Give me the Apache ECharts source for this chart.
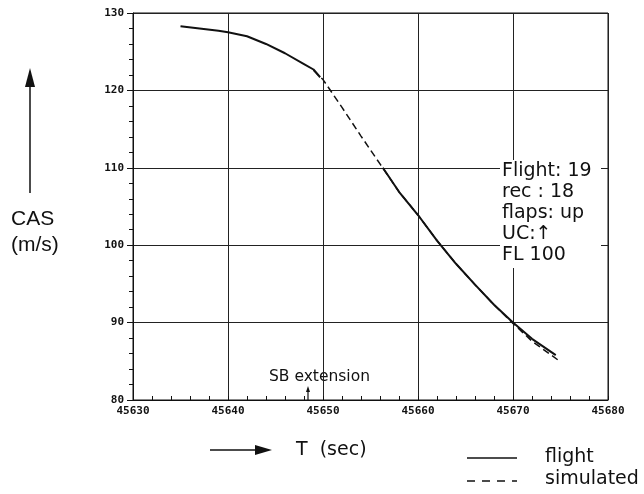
<!DOCTYPE html>
<html>
<head>
<meta charset="utf-8">
<script src="https://cdn.jsdelivr.net/npm/echarts@6/dist/echarts.min.js"></script>
<style>html,body{margin:0;padding:0;background:#fff}#c{width:644px;height:494px}</style>
</head>
<body>
<div id="c"></div>
<script>
// Flight record (solid) — T (sec), CAS (m/s); null = gap in record
var flightT   = [45635, 45637, 45639, 45640, 45642, 45644, 45646, 45648, 45649, 45649.7, 45650.4, 45656.3, 45658, 45660, 45662, 45664, 45666, 45668, 45670, 45672, 45674.5];
var flightCAS = [128.3, 128.0, 127.7, 127.5, 127.0, 126.0, 124.8, 123.4, 122.7, 121.7, null, 110.0, 106.9, 103.9, 100.6, 97.6, 94.9, 92.3, 90.0, 87.9, 85.8];
// Simulated (dashed)
var simT   = [45649, 45650, 45652, 45654, 45656, 45658, 45660, 45662, 45664, 45666, 45668, 45670, 45672, 45674.7];
var simCAS = [122.6, 121.4, 117.8, 114.1, 110.5, 106.9, 103.9, 100.6, 97.6, 94.9, 92.3, 89.9, 87.6, 85.2];
var xTicks = [45630, 45640, 45650, 45660, 45670, 45680];
var yTicks = [80, 90, 100, 110, 120, 130];

function pairs(a, b) { return a.map(function (t, i) { return [t, b[i]]; }); }

var chart = echarts.init(document.getElementById('c'), null, {renderer: 'canvas'});
var tickFont = {fontFamily: 'DejaVu Sans Mono', fontWeight: 'bold', fontSize: 11, color: '#111'};
function T(text, size, fam) { return {text: text, fontFamily: fam || 'DejaVu Sans', fontSize: size, fill: '#111'}; }

chart.setOption({
  backgroundColor: '#fff',
  animation: false,
  grid: {left: 133, right: 36, top: 13, bottom: 94, show: true, borderColor: '#111', borderWidth: 1},
  xAxis: {
    type: 'value', min: xTicks[0], max: xTicks[xTicks.length - 1], interval: 10,
    axisLine: {lineStyle: {color: '#111'}},
    axisTick: {inside: true, length: 4, lineStyle: {color: '#111'}},
    minorTick: {show: true, splitNumber: 5, length: 4, lineStyle: {color: '#111'}},
    splitLine: {lineStyle: {color: '#222', width: 1}},
    axisLabel: Object.assign({margin: 6, formatter: function (v) { return String(v); }}, tickFont)
  },
  yAxis: {
    type: 'value', min: yTicks[0], max: yTicks[yTicks.length - 1], interval: 10,
    axisLine: {lineStyle: {color: '#111'}},
    axisTick: {length: 6, lineStyle: {color: '#111'}},
    minorTick: {show: true, splitNumber: 5, length: 4, lineStyle: {color: '#111'}},
    splitLine: {lineStyle: {color: '#222', width: 1}},
    axisLabel: Object.assign({margin: 9}, tickFont)
  },
  series: [
    {name: 'flight', type: 'line', data: pairs(flightT, flightCAS), showSymbol: false, connectNulls: false,
     smooth: false, lineStyle: {color: '#111', width: 2}, z: 3},
    {name: 'simulated', type: 'line', data: pairs(simT, simCAS), showSymbol: false,
     smooth: false, lineStyle: {color: '#111', width: 1.5, type: [7, 4]}, z: 2}
  ],
  graphic: [
    // Y-axis title with arrow
    {type: 'line', shape: {x1: 30, y1: 193, x2: 30, y2: 82}, style: {stroke: '#111', lineWidth: 1.5}},
    {type: 'polygon', shape: {points: [[30, 68], [25, 87], [35, 87]]}, style: {fill: '#111'}},
    {type: 'text', left: 11, top: 209, style: T('CAS', 21, 'Liberation Sans')},
    {type: 'text', left: 11, top: 235, style: T('(m/s)', 21, 'Liberation Sans')},
    // X-axis title with arrow
    {type: 'line', shape: {x1: 210, y1: 450, x2: 258, y2: 450}, style: {stroke: '#111', lineWidth: 1.5}},
    {type: 'polygon', shape: {points: [[272, 450], [255, 445], [255, 455]]}, style: {fill: '#111'}},
    {type: 'text', left: 296, top: 441, style: T('T  (sec)', 19)},
    // Info box
    {type: 'rect', shape: {x: 500, y: 160, width: 101, height: 108}, style: {fill: '#fff'}, z: 50},
    {type: 'text', left: 502, top: 161, z: 51, style: Object.assign(T('Flight: 19\nrec : 18\nflaps: up\nUC:\u2191\nFL 100', 19), {lineHeight: 20.8})},
    // SB extension annotation
    {type: 'text', left: 269, top: 369, style: T('SB extension', 15.5)},
    {type: 'line', shape: {x1: 308, y1: 400, x2: 308, y2: 391}, style: {stroke: '#111', lineWidth: 1.2}},
    {type: 'polygon', shape: {points: [[308, 386], [306, 392], [310, 392]]}, style: {fill: '#111'}},
    // Legend
    {type: 'line', shape: {x1: 467, y1: 458, x2: 517, y2: 458}, style: {stroke: '#111', lineWidth: 1.5}},
    {type: 'text', left: 545, top: 448, style: T('flight', 19)},
    {type: 'line', shape: {x1: 467, y1: 481, x2: 517, y2: 481}, style: {stroke: '#111', lineWidth: 1.5, lineDash: [8, 7]}},
    {type: 'text', left: 545, top: 470, style: T('simulated', 19)}
  ]
});
</script>
</body>
</html>
